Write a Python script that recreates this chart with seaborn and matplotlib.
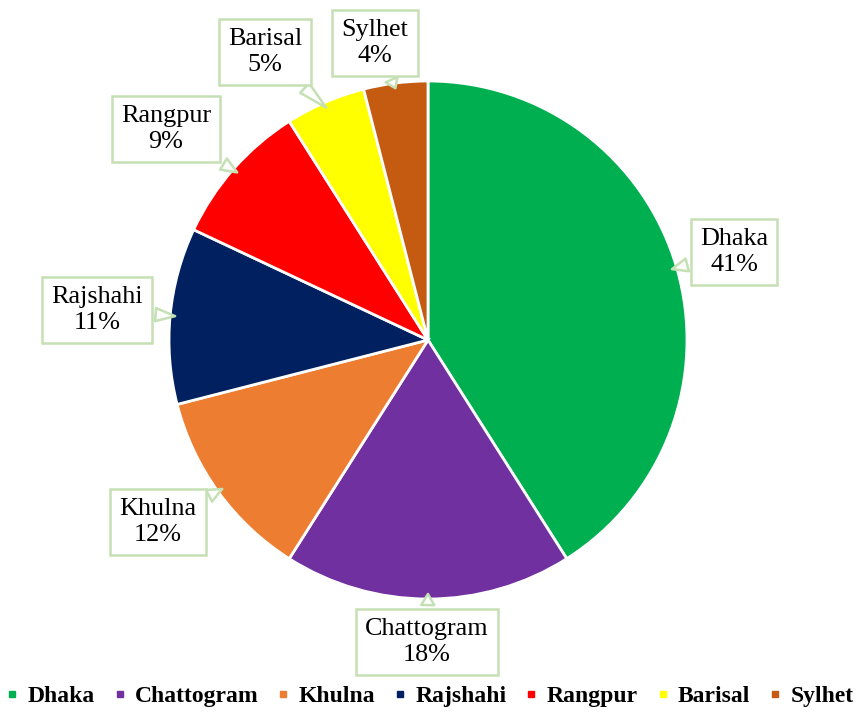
import matplotlib
matplotlib.use("Agg")
import matplotlib.pyplot as plt
import seaborn as sns
import numpy as np
from matplotlib.lines import Line2D

# Data
regions = ['Dhaka', 'Chattogram', 'Khulna', 'Rajshahi', 'Rangpur', 'Barisal', 'Sylhet']
shares = [41, 18, 12, 11, 9, 5, 4]
colors = ['#00B050', '#7030A0', '#ED7D31', '#002060', '#FF0000', '#FFFF00', '#C55A11']
# callout box centres in figure pixels (from top-left)
label_pos = [(734, 252), (427, 642), (158, 522), (97, 310), (166, 129), (265, 52), (375, 43)]

sns.set_theme(style="white")
plt.rcParams['font.family'] = ['Liberation Serif', 'DejaVu Serif']
plt.rcParams['text.color'] = 'black'

W, H = 860, 713
fig = plt.figure(figsize=(W / 100, H / 100), dpi=100)

cx, cy, r = 428, 340, 259
ax = fig.add_axes([(cx - r) / W, (H - cy - r) / H, 2 * r / W, 2 * r / H])

wedges, _ = ax.pie(shares, colors=colors, startangle=90, counterclock=False,
                   wedgeprops=dict(edgecolor='white', linewidth=2))
ax.set_xlim(-1, 1)
ax.set_ylim(-1, 1)
ax.set_aspect('equal')
ax.axis('off')

border = '#C5E0B4'
for w, name, pct, (px, py) in zip(wedges, regions, shares, label_pos):
    mid = np.deg2rad((w.theta1 + w.theta2) / 2)
    tip = (0.97 * np.cos(mid), 0.97 * np.sin(mid))
    ax.annotate(f"{name}\n{pct}%", xy=tip, xytext=(px, H - py), textcoords='figure pixels',
                ha='center', va='center', fontsize=18.8, linespacing=1.25, color='black',
                bbox=dict(boxstyle='square,pad=0.35', fc='white', ec=border, lw=1.8),
                arrowprops=dict(arrowstyle='wedge,tail_width=0.5,shrink_factor=0.5',
                                fc='white', ec=border, lw=1.8),
                zorder=5)

handles = [Line2D([0], [0], marker='s', linestyle='', markersize=5,
                  markerfacecolor=c, markeredgecolor=c) for c in colors]
leg = fig.legend(handles, regions, loc='lower center', bbox_to_anchor=(0.5, -0.022),
                 ncol=7, frameon=False, handlelength=0.5, handletextpad=0.4,
                 columnspacing=0.8, prop={'weight': 'bold', 'size': 17})
for t in leg.get_texts():
    t.set_color('black')

fig.savefig('out.png', dpi=100)
